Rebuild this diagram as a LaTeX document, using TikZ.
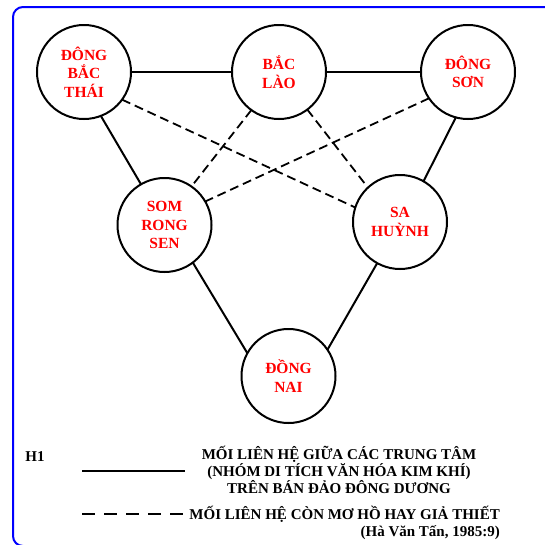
\documentclass[tikz,border=0pt]{standalone}
\usepackage{fontspec}
\setmainfont{Liberation Serif}
\begin{document}
\begin{tikzpicture}[x=1pt,y=-1pt,
  town/.style={circle, draw=black, line width=2pt, minimum size=94pt, inner sep=0pt, outer sep=0pt, text=red, font=\fontsize{15.5}{18.5}\selectfont\bfseries, align=center},
  link/.style={line width=2pt},
  doubt/.style={line width=1.8pt, dash pattern=on 9pt off 5pt},
  legtext/.style={font=\fontsize{15}{17}\selectfont\bfseries, inner sep=0pt, align=center}]
\useasboundingbox (0,0) rectangle (545,544);
\clip (0,0) rectangle (545,544);
\draw[blue, line width=2pt, rounded corners=10pt] (13,7) rectangle (580,546);
\node[town] (dbt) at (84,72) {ĐÔNG\\BẮC\\THÁI};
\node[town] (bl) at (279,72) {BẮC\\LÀO};
\node[town] (ds) at (468,72) {ĐÔNG\\SƠN};
\node[town] (srs) at (164.5,225) {SOM\\RONG\\SEN};
\node[town] (sh) at (400,222) {SA\\HUỲNH};
\node[town] (dn) at (288.5,376) {ĐỒNG\\NAI};
\draw[link] (dbt.0) -- (bl.180);
\draw[link] (bl.0) -- (ds.180);
\draw[link] (dbt.-69) -- (srs.120);
\draw[link] (ds.255) -- (sh.60);
\draw[link] (srs.-53) -- (dn.151);
\draw[link] (sh.241) -- (dn.34);
\draw[doubt] (dbt.-36) -- (sh.162);
\draw[doubt] (bl.234) -- (srs.55);
\draw[doubt] (bl.-53) -- (sh.133);
\draw[doubt] (ds.214) -- (srs.30);
\node[legtext] (h1) at (35,457) {H1};
\coordinate (sa) at (82,471);
\coordinate (sb) at (185,471);
\draw[link] (sa) -- (sb);
\node[legtext] (ltext) at (339,470) {MỐI LIÊN HỆ GIỮA CÁC TRUNG TÂM\\(NHÓM DI TÍCH VĂN HÓA KIM KHÍ)\\TRÊN BÁN ĐẢO ĐÔNG DƯƠNG};
\coordinate (da) at (82,514);
\coordinate (db) at (185,514);
\draw[line width=2pt, dash pattern=on 13pt off 9pt] (da) -- (db);
\node[legtext, anchor=east] (dtext) at (500,514) {MỐI LIÊN HỆ CÒN MƠ HỒ HAY GIẢ THIẾT};
\node[legtext, anchor=east] (src) at (500,533) {(Hà Văn Tấn, 1985:9)};
\end{tikzpicture}
\end{document}
